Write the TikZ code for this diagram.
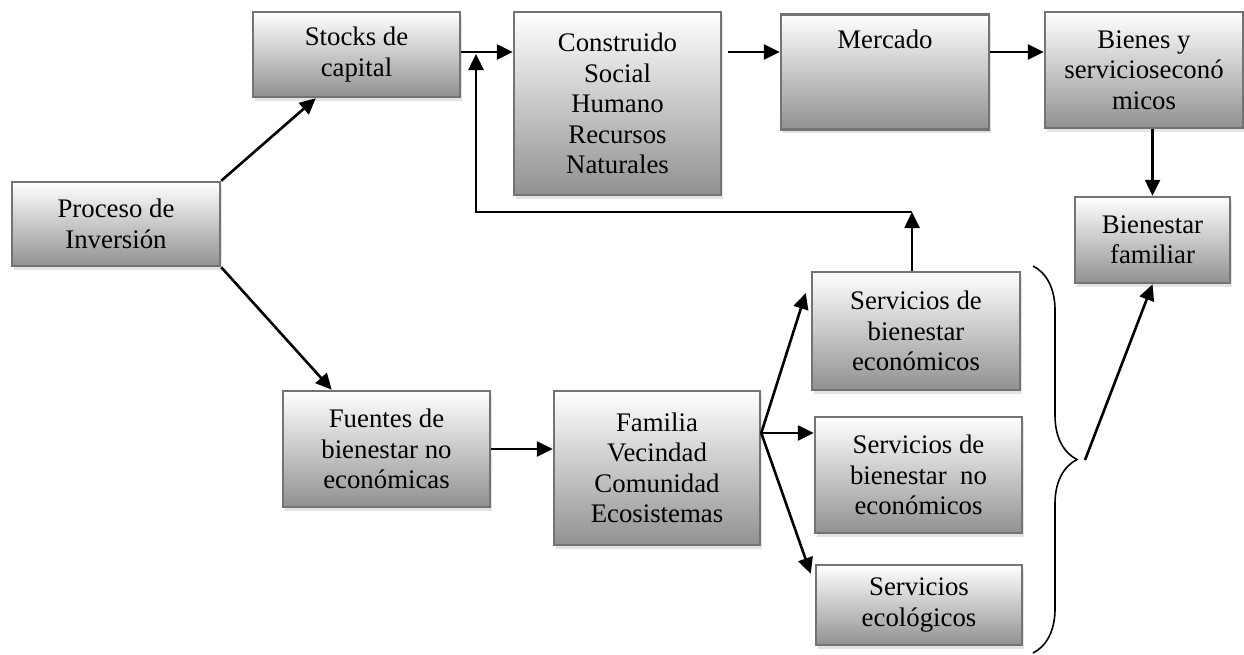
\documentclass[tikz,border=0pt]{standalone}
\usepackage{fontspec}
\setmainfont{Liberation Serif}
\usetikzlibrary{arrows.meta}
\usetikzlibrary{shadows}
\usetikzlibrary{decorations.pathreplacing}

\definecolor{boxline}{RGB}{115,115,115}
\definecolor{boxbottom}{RGB}{145,145,145}

\tikzset{
  caja/.style={rectangle,draw=boxline,line width=2.5pt,top color=white,bottom color=boxbottom,
    align=center,inner sep=0pt,font=\fontsize{26.8}{30.5}\selectfont,
    drop shadow={opacity=0.22,shadow xshift=2pt,shadow yshift=-4pt}},
  flecha/.style={line width=2.6pt,-{Triangle[length=16pt,width=15pt]}},
  llave/.style={line width=1.6pt,decorate,decoration={brace,amplitude=44pt}},
}

\begin{document}
\begin{tikzpicture}[x=1pt,y=-1pt]
\useasboundingbox (0,0) rectangle (1244,654);

% cajas
\node[caja,minimum width=208pt,minimum height=84pt] (proc) at (116,224) {Proceso de\\Inversión};
\node[caja,minimum width=207pt,minimum height=85pt] (stock) at (356.5,54.5) {Stocks de\\capital};
\node[caja,minimum width=207pt,minimum height=183pt] (constr) at (617.5,103.5) {Construido\\Social\\Humano\\Recursos\\Naturales};
\node[caja,minimum width=208pt,anchor=north,text height=34pt,text depth=81pt] (merc) at (885,13) {Mercado};
\node[caja,minimum width=198pt,minimum height=116pt] (bienes) at (1144,70) {Bienes y\\servicioseconó\\micos};
\node[caja,minimum width=155pt,minimum height=86pt] (bfam) at (1152.5,240) {Bienestar\\familiar};
\node[caja,minimum width=207pt,minimum height=116pt] (fuentes) at (386.5,449) {Fuentes de\\bienestar no\\económicas};
\node[caja,minimum width=206pt,minimum height=154pt] (fam) at (657,468) {Familia\\Vecindad\\Comunidad\\Ecosistemas};
\node[caja,minimum width=208pt,minimum height=118pt] (secon) at (916,331) {Servicios de\\bienestar\\económicos};
\node[caja,minimum width=207pt,minimum height=116pt] (snoecon) at (918.5,475) {Servicios de\\bienestar~ no\\económicos};
\node[caja,minimum width=206pt,minimum height=80pt] (secol) at (919,605) {Servicios\\ecológicos};

% puntos auxiliares
\coordinate (fila) at (0,52);
\coordinate (fb) at (912,212);
\coordinate (union) at (476,54);
\coordinate (fork) at ([yshift=35pt]fam.east);
\coordinate (punta) at (1085,460);

% flechas
\draw[flecha] (proc.north east) -- ([xshift=64pt]stock.south west);
\draw[flecha] (proc.south east) -- ([xshift=50pt]fuentes.north west);
\draw[flecha] (stock.east |- fila) -- (constr.west |- fila);
\draw[flecha] ([xshift=6pt]constr.east |- fila) -- (merc.west |- fila);
\draw[flecha] (merc.east |- fila) -- (bienes.west |- fila);
\draw[flecha] (bfam.north |- bienes.south) -- (bfam.north);
\draw[flecha] (secon.north -| fb) -- (fb);
\draw[flecha] (fb) -| (union);
\draw[flecha] (fuentes.east) -- (fuentes.east -| fam.west);
\draw[flecha] (fork) -- ([xshift=-5pt,yshift=38pt]secon.west);
\draw[flecha] (fork) -- (fork -| snoecon.west);
\draw[flecha] (fork) -- ([xshift=-4pt,yshift=-10pt]secol.north west);

% llave
\draw[llave] (1033,266) -- (1033,653);
\draw[flecha] (punta) -- (bfam.south);

\end{tikzpicture}
\end{document}
